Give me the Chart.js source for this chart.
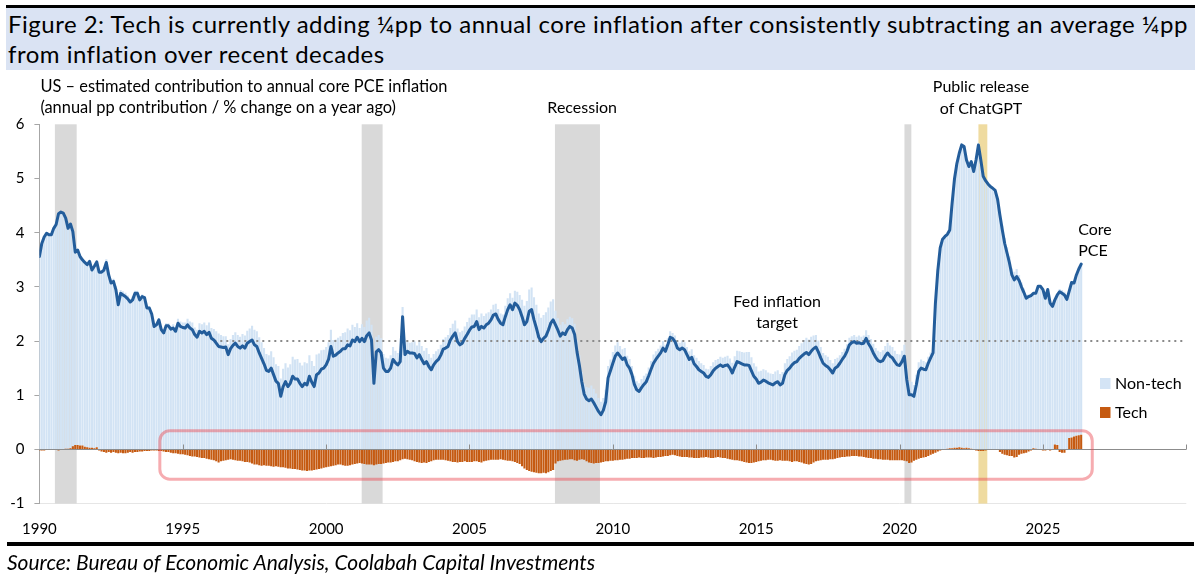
<!DOCTYPE html>
<html>
<head>
<meta charset="utf-8">
<script src="https://cdn.jsdelivr.net/npm/chart.js@4.4.1/dist/chart.umd.min.js"></script>
<style>
html,body{margin:0;padding:0;background:#fff;width:1198px;height:582px;overflow:hidden;}
#wrap{position:relative;width:1198px;height:582px;}
#topbar{position:absolute;left:6px;top:5px;width:1189px;height:3px;background:#000;}
#titlebox{position:absolute;left:6px;top:8px;width:1189px;height:62px;background:#dae3f3;}
#title{position:absolute;left:8px;top:9px;font:24px/30px Lato,sans-serif;letter-spacing:0.5px;color:#000;white-space:nowrap;}
#rule{position:absolute;left:7px;top:542px;width:1187px;height:4px;background:#000;}
#source{position:absolute;left:7px;top:550px;font:italic 21px/24px Lato,sans-serif;color:#000;white-space:nowrap;}
canvas{position:absolute;left:0;top:0;}
</style>
</head>
<body>
<div id="wrap">
<div id="topbar"></div>
<div id="titlebox"></div>
<div id="title">Figure 2: Tech is currently adding ¼pp to annual core inflation after consistently subtracting an average ¼pp<br>from inflation over recent decades</div>
<canvas id="c" width="1198" height="582"></canvas>
<div id="rule"></div>
<div id="source">Source: Bureau of Economic Analysis, Coolabah Capital Investments</div>
</div>
<script>
// ---------- DATA (monthly, starting January 1990) ----------
const startYear = 1990;

// Core PCE inflation, % change on a year ago
const corePCE = [
  3.56, 3.80, 3.92, 3.99, 3.96, 3.96, 4.08, 4.15, 4.35, 4.38, 4.36, 4.27, // 1990
  4.08, 4.16, 4.02, 3.64, 3.68, 3.56, 3.50, 3.45, 3.41, 3.47, 3.31, 3.38, // 1991
  3.46, 3.27, 3.27, 3.31, 3.45, 3.22, 3.07, 3.10, 2.95, 2.67, 2.88, 2.85, // 1992
  2.82, 2.78, 2.72, 2.76, 2.88, 2.88, 2.76, 2.82, 2.80, 2.61, 2.61, 2.50, // 1993
  2.27, 2.30, 2.39, 2.21, 2.15, 2.28, 2.28, 2.22, 2.24, 2.18, 2.33, 2.27, // 1994
  2.25, 2.24, 2.30, 2.24, 2.21, 2.12, 2.07, 2.18, 2.15, 2.18, 2.12, 2.16, // 1995
  2.05, 2.02, 1.96, 1.90, 1.89, 1.88, 1.89, 1.75, 1.86, 1.92, 1.96, 1.90, // 1996
  1.87, 1.91, 1.87, 1.96, 1.99, 2.02, 1.93, 1.90, 1.78, 1.68, 1.58, 1.46, // 1997
  1.44, 1.50, 1.38, 1.26, 1.22, 0.98, 1.16, 1.25, 1.16, 1.22, 1.35, 1.30, // 1998
  1.30, 1.22, 1.16, 1.22, 1.19, 1.35, 1.24, 1.16, 1.38, 1.41, 1.48, 1.50, // 1999
  1.56, 1.66, 1.90, 1.72, 1.74, 1.78, 1.81, 1.86, 1.86, 1.93, 1.91, 2.02, // 2000
  1.99, 2.07, 1.99, 2.05, 1.99, 2.10, 2.15, 2.02, 1.22, 1.80, 1.84, 1.78, // 2001
  1.50, 1.44, 1.44, 1.50, 1.66, 1.60, 1.56, 1.62, 2.45, 1.75, 1.81, 1.78, // 2002
  1.78, 1.77, 1.69, 1.75, 1.66, 1.58, 1.62, 1.53, 1.47, 1.56, 1.62, 1.66, // 2003
  1.74, 1.85, 1.87, 1.90, 2.02, 2.09, 2.15, 1.99, 1.93, 1.96, 2.05, 2.12, // 2004
  2.20, 2.26, 2.27, 2.36, 2.21, 2.27, 2.24, 2.30, 2.33, 2.39, 2.48, 2.50, // 2005
  2.40, 2.33, 2.30, 2.45, 2.58, 2.67, 2.58, 2.70, 2.66, 2.58, 2.45, 2.30, // 2006
  2.36, 2.55, 2.58, 2.39, 2.24, 2.07, 1.99, 2.05, 2.09, 2.20, 2.33, 2.39, // 2007
  2.30, 2.20, 2.09, 2.15, 2.12, 2.21, 2.27, 2.24, 2.12, 1.80, 1.55, 1.25, // 2008
  1.02, 0.93, 0.90, 0.93, 0.86, 0.78, 0.70, 0.64, 0.72, 0.88, 1.32, 1.45, // 2009
  1.59, 1.72, 1.78, 1.72, 1.66, 1.69, 1.56, 1.50, 1.38, 1.20, 1.10, 1.07, // 2010
  1.14, 1.20, 1.25, 1.36, 1.48, 1.59, 1.66, 1.72, 1.78, 1.87, 1.81, 1.93, // 2011
  2.07, 2.05, 1.99, 1.87, 1.84, 1.87, 1.84, 1.75, 1.66, 1.70, 1.58, 1.53, // 2012
  1.47, 1.44, 1.41, 1.35, 1.33, 1.38, 1.45, 1.50, 1.53, 1.56, 1.53, 1.55, // 2013
  1.56, 1.50, 1.41, 1.52, 1.62, 1.60, 1.58, 1.56, 1.56, 1.55, 1.45, 1.35, // 2014
  1.30, 1.22, 1.24, 1.28, 1.26, 1.23, 1.21, 1.19, 1.23, 1.25, 1.19, 1.22, // 2015
  1.38, 1.46, 1.50, 1.56, 1.60, 1.62, 1.68, 1.72, 1.76, 1.79, 1.75, 1.81, // 2016
  1.86, 1.89, 1.80, 1.69, 1.59, 1.55, 1.52, 1.47, 1.41, 1.50, 1.53, 1.59, // 2017
  1.66, 1.72, 1.81, 1.93, 1.97, 1.99, 1.96, 1.97, 1.95, 1.96, 2.05, 1.95, // 2018
  1.88, 1.78, 1.70, 1.64, 1.62, 1.64, 1.72, 1.78, 1.72, 1.69, 1.62, 1.56, // 2019
  1.55, 1.62, 1.72, 1.29, 1.01, 1.01, 0.98, 1.19, 1.44, 1.50, 1.48, 1.47, // 2020
  1.59, 1.69, 1.78, 2.70, 3.30, 3.72, 3.88, 3.93, 3.97, 4.05, 4.55, 5.00, // 2021
  5.28, 5.47, 5.62, 5.59, 5.34, 5.22, 5.31, 5.13, 5.34, 5.62, 5.34, 5.04, // 2022
  4.96, 4.90, 4.85, 4.82, 4.78, 4.62, 4.32, 4.05, 3.80, 3.62, 3.44, 3.22, // 2023
  3.13, 3.19, 3.12, 3.00, 2.90, 2.79, 2.82, 2.84, 2.88, 2.88, 3.01, 3.01, // 2024
  2.95, 2.79, 2.95, 2.70, 2.64, 2.76, 2.85, 2.91, 2.88, 2.85, 2.77, 2.92, // 2025
  3.08, 3.07, 3.22, 3.33, 3.42                                            // 2026
];

// Tech contribution to annual core PCE inflation, pp
const techContribution = [
  -0.02, -0.02, -0.02, -0.01, -0.01, -0.01, -0.01, 0.00, -0.02, -0.01, 0.00, 0.01, // 1990
  0.01, 0.02, 0.06, 0.08, 0.08, 0.07, 0.07, 0.05, 0.04, 0.03, 0.03, 0.02, // 1991
  0.04, -0.02, -0.04, -0.05, -0.06, -0.05, -0.06, -0.05, -0.06, -0.07, -0.06, -0.07, // 1992
  -0.07, -0.06, -0.05, -0.06, -0.05, -0.05, -0.04, -0.04, -0.03, -0.03, -0.03, -0.02, // 1993
  -0.02, -0.02, -0.03, -0.03, -0.04, -0.05, -0.05, -0.06, -0.07, -0.07, -0.08, -0.09, // 1994
  -0.09, -0.10, -0.11, -0.12, -0.13, -0.13, -0.14, -0.15, -0.16, -0.16, -0.17, -0.18, // 1995
  -0.19, -0.20, -0.22, -0.24, -0.22, -0.21, -0.20, -0.19, -0.18, -0.19, -0.20, -0.21, // 1996
  -0.21, -0.22, -0.23, -0.23, -0.24, -0.26, -0.28, -0.28, -0.29, -0.30, -0.29, -0.30, // 1997
  -0.30, -0.31, -0.32, -0.31, -0.32, -0.33, -0.33, -0.34, -0.35, -0.35, -0.36, -0.36, // 1998
  -0.37, -0.38, -0.39, -0.39, -0.40, -0.39, -0.39, -0.38, -0.37, -0.36, -0.35, -0.34, // 1999
  -0.33, -0.32, -0.31, -0.30, -0.29, -0.28, -0.28, -0.29, -0.30, -0.30, -0.29, -0.28, // 2000
  -0.27, -0.26, -0.25, -0.26, -0.27, -0.28, -0.28, -0.28, -0.29, -0.28, -0.27, -0.27, // 2001
  -0.26, -0.25, -0.24, -0.24, -0.23, -0.22, -0.22, -0.20, -0.18, -0.17, -0.18, -0.19, // 2002
  -0.20, -0.22, -0.23, -0.24, -0.25, -0.24, -0.25, -0.23, -0.22, -0.20, -0.19, -0.19, // 2003
  -0.19, -0.19, -0.20, -0.21, -0.22, -0.23, -0.23, -0.24, -0.23, -0.23, -0.22, -0.23, // 2004
  -0.23, -0.23, -0.22, -0.22, -0.23, -0.24, -0.22, -0.21, -0.20, -0.19, -0.19, -0.19, // 2005
  -0.19, -0.18, -0.19, -0.20, -0.21, -0.21, -0.22, -0.23, -0.25, -0.27, -0.31, -0.35, // 2006
  -0.38, -0.40, -0.41, -0.42, -0.43, -0.44, -0.44, -0.43, -0.44, -0.42, -0.40, -0.38, // 2007
  -0.26, -0.22, -0.21, -0.20, -0.19, -0.19, -0.18, -0.18, -0.20, -0.21, -0.19, -0.18, // 2008
  -0.19, -0.22, -0.24, -0.25, -0.26, -0.25, -0.25, -0.24, -0.23, -0.22, -0.22, -0.21, // 2009
  -0.21, -0.20, -0.20, -0.19, -0.19, -0.18, -0.17, -0.17, -0.16, -0.16, -0.16, -0.15, // 2010
  -0.16, -0.16, -0.15, -0.15, -0.15, -0.16, -0.15, -0.14, -0.14, -0.13, -0.12, -0.12, // 2011
  -0.11, -0.10, -0.11, -0.12, -0.13, -0.14, -0.14, -0.14, -0.15, -0.15, -0.16, -0.16, // 2012
  -0.16, -0.15, -0.15, -0.14, -0.15, -0.16, -0.16, -0.15, -0.14, -0.15, -0.16, -0.16, // 2013
  -0.17, -0.18, -0.19, -0.20, -0.20, -0.21, -0.22, -0.23, -0.24, -0.25, -0.25, -0.24, // 2014
  -0.23, -0.22, -0.21, -0.20, -0.20, -0.19, -0.19, -0.20, -0.21, -0.21, -0.20, -0.21, // 2015
  -0.21, -0.21, -0.22, -0.23, -0.22, -0.22, -0.23, -0.24, -0.26, -0.27, -0.28, -0.27, // 2016
  -0.24, -0.22, -0.21, -0.20, -0.19, -0.19, -0.19, -0.18, -0.18, -0.17, -0.16, -0.15, // 2017
  -0.14, -0.14, -0.13, -0.13, -0.12, -0.12, -0.12, -0.13, -0.13, -0.14, -0.15, -0.16, // 2018
  -0.16, -0.17, -0.17, -0.18, -0.18, -0.19, -0.19, -0.19, -0.20, -0.20, -0.20, -0.20, // 2019
  -0.20, -0.20, -0.21, -0.22, -0.25, -0.24, -0.21, -0.19, -0.17, -0.16, -0.15, -0.14, // 2020
  -0.12, -0.10, -0.08, -0.06, -0.04, -0.02, -0.01, 0.00, 0.01, 0.02, 0.02, 0.03, // 2021
  0.03, 0.04, 0.03, 0.02, 0.03, 0.02, 0.01, 0.00, -0.02, -0.03, -0.03, -0.03, // 2022
  -0.02, -0.01, 0.00, 0.00, 0.00, -0.01, -0.05, -0.08, -0.10, -0.11, -0.12, -0.12, // 2023
  -0.15, -0.14, -0.10, -0.08, -0.07, -0.06, -0.04, -0.02, 0.02, 0.01, -0.01, -0.01, // 2024
  -0.02, -0.02, -0.01, -0.02, -0.01, 0.09, 0.08, -0.05, -0.06, -0.06, -0.01, 0.21, // 2025
  0.22, 0.24, 0.25, 0.26, 0.27                                                      // 2026
];

const yearTickLabels = ['1990', '1995', '2000', '2005', '2010', '2015', '2020', '2025'];
const yTickValues = [-1, 0, 1, 2, 3, 4, 5, 6];
const fedTarget = 2;
const fedTargetStart = 1996.1;
const recessionStarts = [1990.54, 2001.24, 2007.98, 2020.17];
const recessionEnds   = [1991.30, 2001.97, 2009.55, 2020.41];
const chatGptBand = [2022.75, 2023.06];

// ---------- derived series ----------
const monthX = corePCE.map((_, i) => startYear + i / 12);
const nonTech = corePCE.map((v, i) => +(v - techContribution[i]).toFixed(2));

Chart.defaults.font.family = 'Lato, sans-serif';
Chart.defaults.color = '#000';

const overlay = {
  id: 'overlay',
  beforeDatasetsDraw(chart) {
    const { ctx, chartArea: a, scales: { x } } = chart;
    ctx.save();
    ctx.fillStyle = '#d9d9d9';
    recessionStarts.forEach((s, i) => {
      const x0 = x.getPixelForValue(s), x1 = x.getPixelForValue(recessionEnds[i]);
      ctx.fillRect(x0, a.top, x1 - x0, a.bottom - a.top);
    });
    ctx.fillStyle = '#efdba0';
    const g0 = x.getPixelForValue(chatGptBand[0]), g1 = x.getPixelForValue(chatGptBand[1]);
    ctx.fillRect(g0, a.top, g1 - g0, a.bottom - a.top);
    ctx.restore();
  },
  afterDatasetsDraw(chart) {
    const { ctx, chartArea: a, scales: { x, y } } = chart;
    ctx.save();
    // zero axis line with tick marks
    const y0 = Math.round(y.getPixelForValue(0)) + 0.5;
    ctx.strokeStyle = '#8c8c8c';
    ctx.lineWidth = 1;
    ctx.beginPath(); ctx.moveTo(a.left, y0); ctx.lineTo(a.right, y0); ctx.stroke();
    for (let yr = 1995; yr <= 2030; yr += 5) {
      const px = Math.round(x.getPixelForValue(yr)) + 0.5;
      ctx.beginPath(); ctx.moveTo(px, y0); ctx.lineTo(px, y0 - 5); ctx.stroke();
    }
    // highlight box round the tech contribution
    const bx0 = x.getPixelForValue(1994.2), bx1 = x.getPixelForValue(2026.72);
    const by0 = y.getPixelForValue(0.345), by1 = y.getPixelForValue(-0.55);
    const r = 10;
    ctx.strokeStyle = 'rgba(236,70,80,0.45)';
    ctx.lineWidth = 3;
    ctx.beginPath();
    ctx.moveTo(bx0 + r, by0);
    ctx.lineTo(bx1 - r, by0); ctx.arcTo(bx1, by0, bx1, by0 + r, r);
    ctx.lineTo(bx1, by1 - r); ctx.arcTo(bx1, by1, bx1 - r, by1, r);
    ctx.lineTo(bx0 + r, by1); ctx.arcTo(bx0, by1, bx0, by1 - r, r);
    ctx.lineTo(bx0, by0 + r); ctx.arcTo(bx0, by0, bx0 + r, by0, r);
    ctx.closePath(); ctx.stroke();

    // annotations
    ctx.fillStyle = '#000';
    ctx.textBaseline = 'middle';
    ctx.textAlign = 'left';
    ctx.font = '16.4px Lato, sans-serif';
    ctx.fillText('US \u2013 estimated contribution to annual core PCE inflation', a.left + 1, 86.5);
    ctx.fillText('(annual pp contribution / % change on a year ago)', a.left + 1, 108);
    ctx.font = '16px Lato, sans-serif';
    ctx.textAlign = 'center';
    ctx.fillText('Recession', x.getPixelForValue(2008.93), 107.5);
    ctx.fillText('Public release', x.getPixelForValue(2022.84), 86.5);
    ctx.fillText('of ChatGPT', x.getPixelForValue(2022.84), 109);
    ctx.fillText('Fed inflation', x.getPixelForValue(2015.73), y.getPixelForValue(2.73));
    ctx.fillText('target', x.getPixelForValue(2015.73), y.getPixelForValue(2.33));
    ctx.textAlign = 'left';
    ctx.fillText('Core', x.getPixelForValue(2026.23), y.getPixelForValue(4.05));
    ctx.fillText('PCE', x.getPixelForValue(2026.23), y.getPixelForValue(3.67));
    // legend
    ctx.fillStyle = '#d4e4f5';
    ctx.fillRect(1100, 378, 10.5, 11);
    ctx.fillStyle = '#c55a11';
    ctx.fillRect(1100, 407, 10.5, 11);
    ctx.fillStyle = '#000';
    ctx.fillText('Non-tech', 1115, 383.5);
    ctx.fillText('Tech', 1115, 412.5);
    ctx.restore();
  }
};

new Chart(document.getElementById('c'), {
  type: 'bar',
  data: {
    datasets: [
      {
        type: 'line', label: 'Core PCE', stack: 'core',
        data: monthX.map((x, i) => ({ x, y: corePCE[i] })),
        borderColor: '#235d9b', borderWidth: 3, pointRadius: 0, tension: 0,
        borderJoinStyle: 'round', borderCapStyle: 'round'
      },
      {
        type: 'line', label: 'Fed inflation target', stack: 'target',
        data: [{ x: fedTargetStart, y: fedTarget }, { x: 2030, y: fedTarget }],
        borderColor: '#8a8a8a', borderWidth: 2, borderDash: [2, 4], pointRadius: 0
      },
      {
        label: 'Tech', stack: 'bars',
        data: monthX.map((x, i) => ({ x, y: techContribution[i] })),
        backgroundColor: '#c55a11', barPercentage: 0.88, categoryPercentage: 1
      },
      {
        label: 'Non-tech', stack: 'bars',
        data: monthX.map((x, i) => ({ x, y: nonTech[i] })),
        backgroundColor: '#d2e3f4', barPercentage: 0.88, categoryPercentage: 1
      }
    ]
  },
  options: {
    responsive: false,
    animation: false,
    layout: { padding: { top: 124.3, right: 11.7, left: 0, bottom: 0 } },
    plugins: { legend: { display: false }, tooltip: { enabled: false } },
    scales: {
      x: {
        type: 'linear', min: 1990, max: 2030, stacked: true, offset: false,
        grid: { display: false }, border: { display: false },
        ticks: {
          stepSize: 5, autoSkip: false, maxRotation: 0, padding: 9,
          font: { size: 15 }, color: '#000',
          callback: (v) => yearTickLabels.includes(String(v)) ? String(v) : ''
        },
        afterFit(s) { s.height = 582 - 503.6; }
      },
      y: {
        min: -1, max: 6, stacked: true,
        afterBuildTicks(s) { s.ticks = yTickValues.map(v => ({ value: v })); },
        ticks: { padding: 10, font: { size: 15 }, color: '#000' },
        grid: {
          color: (c) => (c.tick && c.tick.value === -1) ? '#e6e6e6' : 'rgba(0,0,0,0)',
          tickColor: '#a6a6a6', tickLength: 5
        },
        border: { display: true, color: '#a6a6a6' },
        afterFit(s) { s.width = 39.4; }
      }
    }
  },
  plugins: [overlay]
});
</script>
</body>
</html>
